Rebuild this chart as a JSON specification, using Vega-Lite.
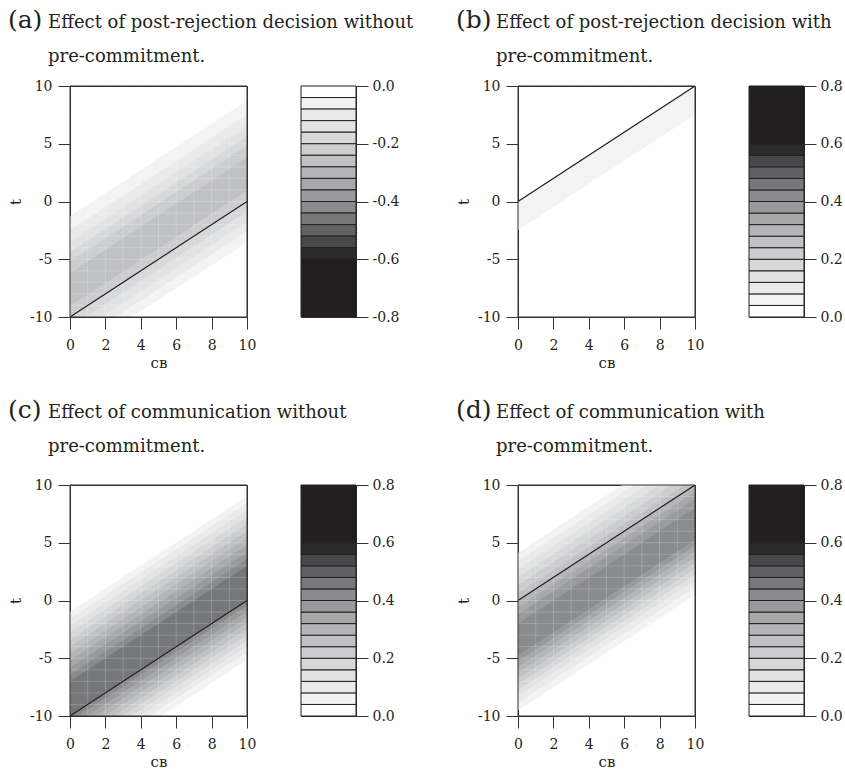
{
  "$schema": "https://vega.github.io/schema/vega-lite/v6.json",
  "background": "white",
  "padding": {"left": 7, "top": 8, "right": 0, "bottom": 0},
  "config": {
    "font": "DejaVu Serif",
    "view": {"stroke": "#333333", "strokeWidth": 1},
    "axis": {"labelFont": "DejaVu Serif", "labelFontSize": 14, "labelColor": "#231f20", "titleFont": "DejaVu Serif", "titleFontSize": 15, "titleFontWeight": "normal", "titleColor": "#231f20", "domainColor": "#333333", "tickColor": "#333333", "tickSize": 12, "grid": false, "zindex": 1, "labelOverlap": false},
    "title": {"anchor": "start", "font": "DejaVu Serif", "fontSize": 25, "fontWeight": "normal", "color": "#231f20", "subtitleFont": "DejaVu Serif", "subtitleFontSize": 18, "subtitleColor": "#231f20", "subtitleLineHeight": 34, "subtitlePadding": -19.5, "offset": 13}
  },
  "datasets": {
    "bandsA": [
      {"b": "A1", "k": 1, "cB": 0, "hi": -1.3, "lo": -2.5}, {"b": "A1", "k": 1, "cB": 10, "hi": 8.7, "lo": 7.5},
      {"b": "A2", "k": 2, "cB": 0, "hi": -2.5, "lo": -3.5}, {"b": "A2", "k": 2, "cB": 10, "hi": 7.5, "lo": 6.5},
      {"b": "A3", "k": 3, "cB": 0, "hi": -3.5, "lo": -4.4}, {"b": "A3", "k": 3, "cB": 10, "hi": 6.5, "lo": 5.6},
      {"b": "A4", "k": 4, "cB": 0, "hi": -4.4, "lo": -5.2}, {"b": "A4", "k": 4, "cB": 10, "hi": 5.6, "lo": 4.8},
      {"b": "A5", "k": 5, "cB": 0, "hi": -5.2, "lo": -6.2}, {"b": "A5", "k": 5, "cB": 10, "hi": 4.8, "lo": 3.8},
      {"b": "A6", "k": 6, "cB": 0, "hi": -6.2, "lo": -9.1}, {"b": "A6", "k": 6, "cB": 10, "hi": 3.8, "lo": 0.9},
      {"b": "A7", "k": 5, "cB": 0, "hi": -9.1, "lo": -10}, {"b": "A7", "k": 5, "cB": 10, "hi": 0.9, "lo": 0},
      {"b": "A8", "k": 4, "cB": 0, "hi": -10, "lo": -10.9}, {"b": "A8", "k": 4, "cB": 10, "hi": 0, "lo": -0.9},
      {"b": "A9", "k": 3, "cB": 0, "hi": -10.9, "lo": -11.8}, {"b": "A9", "k": 3, "cB": 10, "hi": -0.9, "lo": -1.8},
      {"b": "A10", "k": 2, "cB": 0, "hi": -11.8, "lo": -12.6}, {"b": "A10", "k": 2, "cB": 10, "hi": -1.8, "lo": -2.6},
      {"b": "A11", "k": 1, "cB": 0, "hi": -12.6, "lo": -13.5}, {"b": "A11", "k": 1, "cB": 10, "hi": -2.6, "lo": -3.5}
    ],
    "bandsB": [
      {"b": "B1", "k": 1, "cB": 0, "hi": 0, "lo": -2.45}, {"b": "B1", "k": 1, "cB": 10, "hi": 10, "lo": 7.55}
    ],
    "bandsC": [
      {"b": "C1", "k": 1, "cB": 0, "hi": -1.0, "lo": -1.6}, {"b": "C1", "k": 1, "cB": 10, "hi": 9.0, "lo": 8.4},
      {"b": "C2", "k": 2, "cB": 0, "hi": -1.6, "lo": -2.2}, {"b": "C2", "k": 2, "cB": 10, "hi": 8.4, "lo": 7.8},
      {"b": "C3", "k": 3, "cB": 0, "hi": -2.2, "lo": -2.8}, {"b": "C3", "k": 3, "cB": 10, "hi": 7.8, "lo": 7.2},
      {"b": "C4", "k": 4, "cB": 0, "hi": -2.8, "lo": -3.4}, {"b": "C4", "k": 4, "cB": 10, "hi": 7.2, "lo": 6.6},
      {"b": "C5", "k": 5, "cB": 0, "hi": -3.4, "lo": -4.0}, {"b": "C5", "k": 5, "cB": 10, "hi": 6.6, "lo": 6.0},
      {"b": "C6", "k": 6, "cB": 0, "hi": -4.0, "lo": -4.6}, {"b": "C6", "k": 6, "cB": 10, "hi": 6.0, "lo": 5.4},
      {"b": "C7", "k": 7, "cB": 0, "hi": -4.6, "lo": -5.2}, {"b": "C7", "k": 7, "cB": 10, "hi": 5.4, "lo": 4.8},
      {"b": "C8", "k": 8, "cB": 0, "hi": -5.2, "lo": -5.8}, {"b": "C8", "k": 8, "cB": 10, "hi": 4.8, "lo": 4.2},
      {"b": "C9", "k": 9, "cB": 0, "hi": -5.8, "lo": -6.4}, {"b": "C9", "k": 9, "cB": 10, "hi": 4.2, "lo": 3.6},
      {"b": "C10", "k": 10, "cB": 0, "hi": -6.4, "lo": -7.0}, {"b": "C10", "k": 10, "cB": 10, "hi": 3.6, "lo": 3.0},
      {"b": "C11", "k": 11, "cB": 0, "hi": -7.0, "lo": -10}, {"b": "C11", "k": 11, "cB": 10, "hi": 3.0, "lo": 0},
      {"b": "C12", "k": 10, "cB": 0, "hi": -10, "lo": -10.5}, {"b": "C12", "k": 10, "cB": 10, "hi": 0, "lo": -0.5},
      {"b": "C13", "k": 9, "cB": 0, "hi": -10.5, "lo": -11.0}, {"b": "C13", "k": 9, "cB": 10, "hi": -0.5, "lo": -1.0},
      {"b": "C14", "k": 8, "cB": 0, "hi": -11.0, "lo": -11.5}, {"b": "C14", "k": 8, "cB": 10, "hi": -1.0, "lo": -1.5},
      {"b": "C15", "k": 7, "cB": 0, "hi": -11.5, "lo": -12.0}, {"b": "C15", "k": 7, "cB": 10, "hi": -1.5, "lo": -2.0},
      {"b": "C16", "k": 6, "cB": 0, "hi": -12.0, "lo": -12.5}, {"b": "C16", "k": 6, "cB": 10, "hi": -2.0, "lo": -2.5},
      {"b": "C17", "k": 5, "cB": 0, "hi": -12.5, "lo": -13.0}, {"b": "C17", "k": 5, "cB": 10, "hi": -2.5, "lo": -3.0},
      {"b": "C18", "k": 4, "cB": 0, "hi": -13.0, "lo": -13.5}, {"b": "C18", "k": 4, "cB": 10, "hi": -3.0, "lo": -3.5},
      {"b": "C19", "k": 3, "cB": 0, "hi": -13.5, "lo": -14.0}, {"b": "C19", "k": 3, "cB": 10, "hi": -3.5, "lo": -4.0},
      {"b": "C20", "k": 2, "cB": 0, "hi": -14.0, "lo": -14.5}, {"b": "C20", "k": 2, "cB": 10, "hi": -4.0, "lo": -4.5},
      {"b": "C21", "k": 1, "cB": 0, "hi": -14.5, "lo": -15.1}, {"b": "C21", "k": 1, "cB": 10, "hi": -4.5, "lo": -5.1}
    ],
    "bandsD": [
      {"b": "D1", "k": 1, "cB": 0, "hi": 4.1, "lo": 3.4}, {"b": "D1", "k": 1, "cB": 10, "hi": 14.1, "lo": 13.4},
      {"b": "D2", "k": 2, "cB": 0, "hi": 3.4, "lo": 2.7}, {"b": "D2", "k": 2, "cB": 10, "hi": 13.4, "lo": 12.7},
      {"b": "D3", "k": 3, "cB": 0, "hi": 2.7, "lo": 2.0}, {"b": "D3", "k": 3, "cB": 10, "hi": 12.7, "lo": 12.0},
      {"b": "D4", "k": 4, "cB": 0, "hi": 2.0, "lo": 1.3}, {"b": "D4", "k": 4, "cB": 10, "hi": 12.0, "lo": 11.3},
      {"b": "D5", "k": 5, "cB": 0, "hi": 1.3, "lo": 0.6}, {"b": "D5", "k": 5, "cB": 10, "hi": 11.3, "lo": 10.6},
      {"b": "D6", "k": 6, "cB": 0, "hi": 0.6, "lo": 0}, {"b": "D6", "k": 6, "cB": 10, "hi": 10.6, "lo": 10},
      {"b": "D7", "k": 7, "cB": 0, "hi": 0, "lo": -0.6}, {"b": "D7", "k": 7, "cB": 10, "hi": 10, "lo": 9.4},
      {"b": "D8", "k": 8, "cB": 0, "hi": -0.6, "lo": -1.2}, {"b": "D8", "k": 8, "cB": 10, "hi": 9.4, "lo": 8.8},
      {"b": "D9", "k": 9, "cB": 0, "hi": -1.2, "lo": -2.0}, {"b": "D9", "k": 9, "cB": 10, "hi": 8.8, "lo": 8.0},
      {"b": "D10", "k": 10, "cB": 0, "hi": -2.0, "lo": -4.8}, {"b": "D10", "k": 10, "cB": 10, "hi": 8.0, "lo": 5.2},
      {"b": "D11", "k": 9, "cB": 0, "hi": -4.8, "lo": -5.3}, {"b": "D11", "k": 9, "cB": 10, "hi": 5.2, "lo": 4.7},
      {"b": "D12", "k": 8, "cB": 0, "hi": -5.3, "lo": -5.8}, {"b": "D12", "k": 8, "cB": 10, "hi": 4.7, "lo": 4.2},
      {"b": "D13", "k": 7, "cB": 0, "hi": -5.8, "lo": -6.3}, {"b": "D13", "k": 7, "cB": 10, "hi": 4.2, "lo": 3.7},
      {"b": "D14", "k": 6, "cB": 0, "hi": -6.3, "lo": -6.8}, {"b": "D14", "k": 6, "cB": 10, "hi": 3.7, "lo": 3.2},
      {"b": "D15", "k": 5, "cB": 0, "hi": -6.8, "lo": -7.3}, {"b": "D15", "k": 5, "cB": 10, "hi": 3.2, "lo": 2.7},
      {"b": "D16", "k": 4, "cB": 0, "hi": -7.3, "lo": -7.8}, {"b": "D16", "k": 4, "cB": 10, "hi": 2.7, "lo": 2.2},
      {"b": "D17", "k": 3, "cB": 0, "hi": -7.8, "lo": -8.3}, {"b": "D17", "k": 3, "cB": 10, "hi": 2.2, "lo": 1.7},
      {"b": "D18", "k": 2, "cB": 0, "hi": -8.3, "lo": -8.9}, {"b": "D18", "k": 2, "cB": 10, "hi": 1.7, "lo": 1.1},
      {"b": "D19", "k": 1, "cB": 0, "hi": -8.9, "lo": -9.5}, {"b": "D19", "k": 1, "cB": 10, "hi": 1.1, "lo": 0.5}
    ],
    "lineLow": [{"cB": 0, "t": -10}, {"cB": 10, "t": 0}],
    "lineHigh": [{"cB": 0, "t": 0}, {"cB": 10, "t": 10}],
    "gridX": [{"cB": 1}, {"cB": 2}, {"cB": 3}, {"cB": 4}, {"cB": 5}, {"cB": 6}, {"cB": 7}, {"cB": 8}, {"cB": 9}],
    "gridY": [{"t": -9}, {"t": -8}, {"t": -7}, {"t": -6}, {"t": -5}, {"t": -4}, {"t": -3}, {"t": -2}, {"t": -1}, {"t": 0}, {"t": 1}, {"t": 2}, {"t": 3}, {"t": 4}, {"t": 5}, {"t": 6}, {"t": 7}, {"t": 8}, {"t": 9}],
    "frame": [{"f": 1}],
    "barPos": [
      {"k": 0, "lo": 0, "hi": 0.04}, {"k": 1, "lo": 0.04, "hi": 0.08}, {"k": 2, "lo": 0.08, "hi": 0.12}, {"k": 3, "lo": 0.12, "hi": 0.16},
      {"k": 4, "lo": 0.16, "hi": 0.2}, {"k": 5, "lo": 0.2, "hi": 0.24}, {"k": 6, "lo": 0.24, "hi": 0.28}, {"k": 7, "lo": 0.28, "hi": 0.32},
      {"k": 8, "lo": 0.32, "hi": 0.36}, {"k": 9, "lo": 0.36, "hi": 0.4}, {"k": 10, "lo": 0.4, "hi": 0.44}, {"k": 11, "lo": 0.44, "hi": 0.48},
      {"k": 12, "lo": 0.48, "hi": 0.52}, {"k": 13, "lo": 0.52, "hi": 0.56}, {"k": 14, "lo": 0.56, "hi": 0.6}, {"k": 15, "lo": 0.6, "hi": 0.64},
      {"k": 16, "lo": 0.64, "hi": 0.68}, {"k": 17, "lo": 0.68, "hi": 0.72}, {"k": 18, "lo": 0.72, "hi": 0.76}, {"k": 19, "lo": 0.76, "hi": 0.8}
    ],
    "barNeg": [
      {"k": 0, "lo": 0, "hi": -0.04}, {"k": 1, "lo": -0.04, "hi": -0.08}, {"k": 2, "lo": -0.08, "hi": -0.12}, {"k": 3, "lo": -0.12, "hi": -0.16},
      {"k": 4, "lo": -0.16, "hi": -0.2}, {"k": 5, "lo": -0.2, "hi": -0.24}, {"k": 6, "lo": -0.24, "hi": -0.28}, {"k": 7, "lo": -0.28, "hi": -0.32},
      {"k": 8, "lo": -0.32, "hi": -0.36}, {"k": 9, "lo": -0.36, "hi": -0.4}, {"k": 10, "lo": -0.4, "hi": -0.44}, {"k": 11, "lo": -0.44, "hi": -0.48},
      {"k": 12, "lo": -0.48, "hi": -0.52}, {"k": 13, "lo": -0.52, "hi": -0.56}, {"k": 14, "lo": -0.56, "hi": -0.6}, {"k": 15, "lo": -0.6, "hi": -0.64},
      {"k": 16, "lo": -0.64, "hi": -0.68}, {"k": 17, "lo": -0.68, "hi": -0.72}, {"k": 18, "lo": -0.72, "hi": -0.76}, {"k": 19, "lo": -0.76, "hi": -0.8}
    ]
  },
  "columns": 2,
  "spacing": {"row": 27, "column": 41},
  "concat": [
    {
      "title": {"text": "(a)", "subtitle": ["\u200b\u00a0\u00a0\u00a0\u00a0\u00a0\u00a0\u00a0Effect of post-rejection decision without", "\u200b\u00a0\u00a0\u00a0\u00a0\u00a0\u00a0\u00a0pre-commitment."], "offset": 13},
      "spacing": 43,
      "hconcat": [
        {
          "width": 177, "height": 231,
          "layer": [
            {"data": {"name": "bandsA"}, "mark": {"type": "area", "clip": true, "strokeWidth": 0.6},
             "encoding": {
               "x": {"field": "cB", "type": "quantitative", "scale": {"domain": [0, 10], "nice": false, "zero": false}, "axis": {"title": "c\u0299", "values": [0, 2, 4, 6, 8, 10], "labelOverlap": false, "labelFlush": false, "labelPadding": 9, "titlePadding": 3}},
               "y": {"field": "hi", "type": "quantitative", "stack": null, "scale": {"domain": [-10, 10], "nice": false, "zero": false}, "axis": {"title": "t", "values": [-10, -5, 0, 5, 10], "labelOverlap": false, "labelExpr": "datum.value < 0 ? '-' + (-datum.value) : '' + datum.value", "labelPadding": 6, "titlePadding": 6}},
               "y2": {"field": "lo"},
               "color": {"field": "k", "type": "ordinal", "legend": null, "scale": {"domain": [0,1,2,3,4,5,6,7,8,9,10,11,12,13,14,15,16,17,18,19], "range": ["#ffffff","#f3f3f3","#eaeaeb","#e1e2e3","#d7d8d9","#cccdcf","#c0c1c3","#b4b5b7","#a7a8aa","#999a9c","#8a8b8d","#767779","#606163","#47484a","#2b2b2c","#231f20","#231f20","#231f20","#231f20","#231f20"]}},
               "stroke": {"field": "k", "type": "ordinal", "legend": null, "scale": {"domain": [0,1,2,3,4,5,6,7,8,9,10,11,12,13,14,15,16,17,18,19], "range": ["#ffffff","#f3f3f3","#eaeaeb","#e1e2e3","#d7d8d9","#cccdcf","#c0c1c3","#b4b5b7","#a7a8aa","#999a9c","#8a8b8d","#767779","#606163","#47484a","#2b2b2c","#231f20","#231f20","#231f20","#231f20","#231f20"]}},
               "detail": {"field": "b"}
             }},
            {"data": {"name": "gridX"}, "mark": {"type": "rule", "color": "#ffffff", "opacity": 0.2, "strokeWidth": 1}, "encoding": {"x": {"field": "cB", "type": "quantitative", "axis": {"title": "c\u0299", "values": [0, 2, 4, 6, 8, 10], "labelOverlap": false, "labelFlush": false, "labelPadding": 9, "titlePadding": 3}}}},
            {"data": {"name": "gridY"}, "mark": {"type": "rule", "color": "#ffffff", "opacity": 0.2, "strokeWidth": 1}, "encoding": {"y": {"field": "t", "type": "quantitative", "axis": {"title": "t", "values": [-10, -5, 0, 5, 10], "labelOverlap": false, "labelExpr": "datum.value < 0 ? '-' + (-datum.value) : '' + datum.value", "labelPadding": 6, "titlePadding": 6}}}},
            {"data": {"name": "lineLow"}, "mark": {"type": "line", "color": "#231f20", "strokeWidth": 1.2, "clip": true}, "encoding": {"x": {"field": "cB", "type": "quantitative", "axis": {"title": "c\u0299", "values": [0, 2, 4, 6, 8, 10], "labelOverlap": false, "labelFlush": false, "labelPadding": 9, "titlePadding": 3}}, "y": {"field": "t", "type": "quantitative", "axis": {"title": "t", "values": [-10, -5, 0, 5, 10], "labelOverlap": false, "labelExpr": "datum.value < 0 ? '-' + (-datum.value) : '' + datum.value", "labelPadding": 6, "titlePadding": 6}}}},
            {"data": {"name": "frame"}, "mark": {"type": "rect", "fill": null, "stroke": "#333333", "strokeWidth": 1}, "encoding": {}}
          ]
        },
        {
          "width": 55, "height": 231,
          "data": {"name": "barNeg"},
          "mark": {"type": "rect", "stroke": "#231f20", "strokeWidth": 1},
          "encoding": {
            "y": {"field": "lo", "type": "quantitative", "scale": {"domain": [-0.8, 0], "nice": false, "zero": false}, "axis": {"orient": "right", "title": null, "values": [0, -0.2, -0.4, -0.6, -0.8], "labelExpr": "datum.value < 0 ? '-' + format(-datum.value, '.1f') : format(datum.value, '.1f')", "labelPadding": 4}},
            "y2": {"field": "hi"},
            "color": {"field": "k", "type": "ordinal", "legend": null, "scale": {"domain": [0,1,2,3,4,5,6,7,8,9,10,11,12,13,14,15,16,17,18,19], "range": ["#ffffff","#f3f3f3","#eaeaeb","#e1e2e3","#d7d8d9","#cccdcf","#c0c1c3","#b4b5b7","#a7a8aa","#999a9c","#8a8b8d","#767779","#606163","#47484a","#2b2b2c","#231f20","#231f20","#231f20","#231f20","#231f20"]}}
          }
        }
      ]
    },
    {
      "title": {"text": "(b)", "subtitle": ["\u200b\u00a0\u00a0\u00a0\u00a0\u00a0\u00a0\u00a0Effect of post-rejection decision with", "\u200b\u00a0\u00a0\u00a0\u00a0\u00a0\u00a0\u00a0pre-commitment."], "offset": 13},
      "spacing": 43,
      "hconcat": [
        {
          "width": 177, "height": 231,
          "layer": [
            {"data": {"name": "bandsB"}, "mark": {"type": "area", "clip": true, "strokeWidth": 0.6},
             "encoding": {
               "x": {"field": "cB", "type": "quantitative", "scale": {"domain": [0, 10], "nice": false, "zero": false}, "axis": {"title": "c\u0299", "values": [0, 2, 4, 6, 8, 10], "labelOverlap": false, "labelFlush": false, "labelPadding": 9, "titlePadding": 3}},
               "y": {"field": "hi", "type": "quantitative", "stack": null, "scale": {"domain": [-10, 10], "nice": false, "zero": false}, "axis": {"title": "t", "values": [-10, -5, 0, 5, 10], "labelOverlap": false, "labelExpr": "datum.value < 0 ? '-' + (-datum.value) : '' + datum.value", "labelPadding": 6, "titlePadding": 6}},
               "y2": {"field": "lo"},
               "color": {"field": "k", "type": "ordinal", "legend": null, "scale": {"domain": [0,1,2,3,4,5,6,7,8,9,10,11,12,13,14,15,16,17,18,19], "range": ["#ffffff","#f3f3f3","#eaeaeb","#e1e2e3","#d7d8d9","#cccdcf","#c0c1c3","#b4b5b7","#a7a8aa","#999a9c","#8a8b8d","#767779","#606163","#47484a","#2b2b2c","#231f20","#231f20","#231f20","#231f20","#231f20"]}},
               "stroke": {"field": "k", "type": "ordinal", "legend": null, "scale": {"domain": [0,1,2,3,4,5,6,7,8,9,10,11,12,13,14,15,16,17,18,19], "range": ["#ffffff","#f3f3f3","#eaeaeb","#e1e2e3","#d7d8d9","#cccdcf","#c0c1c3","#b4b5b7","#a7a8aa","#999a9c","#8a8b8d","#767779","#606163","#47484a","#2b2b2c","#231f20","#231f20","#231f20","#231f20","#231f20"]}},
               "detail": {"field": "b"}
             }},
            {"data": {"name": "gridX"}, "mark": {"type": "rule", "color": "#ffffff", "opacity": 0.2, "strokeWidth": 1}, "encoding": {"x": {"field": "cB", "type": "quantitative", "axis": {"title": "c\u0299", "values": [0, 2, 4, 6, 8, 10], "labelOverlap": false, "labelFlush": false, "labelPadding": 9, "titlePadding": 3}}}},
            {"data": {"name": "gridY"}, "mark": {"type": "rule", "color": "#ffffff", "opacity": 0.2, "strokeWidth": 1}, "encoding": {"y": {"field": "t", "type": "quantitative", "axis": {"title": "t", "values": [-10, -5, 0, 5, 10], "labelOverlap": false, "labelExpr": "datum.value < 0 ? '-' + (-datum.value) : '' + datum.value", "labelPadding": 6, "titlePadding": 6}}}},
            {"data": {"name": "lineHigh"}, "mark": {"type": "line", "color": "#231f20", "strokeWidth": 1.2, "clip": true}, "encoding": {"x": {"field": "cB", "type": "quantitative", "axis": {"title": "c\u0299", "values": [0, 2, 4, 6, 8, 10], "labelOverlap": false, "labelFlush": false, "labelPadding": 9, "titlePadding": 3}}, "y": {"field": "t", "type": "quantitative", "axis": {"title": "t", "values": [-10, -5, 0, 5, 10], "labelOverlap": false, "labelExpr": "datum.value < 0 ? '-' + (-datum.value) : '' + datum.value", "labelPadding": 6, "titlePadding": 6}}}},
            {"data": {"name": "frame"}, "mark": {"type": "rect", "fill": null, "stroke": "#333333", "strokeWidth": 1}, "encoding": {}}
          ]
        },
        {
          "width": 55, "height": 231,
          "data": {"name": "barPos"},
          "mark": {"type": "rect", "stroke": "#231f20", "strokeWidth": 1},
          "encoding": {
            "y": {"field": "lo", "type": "quantitative", "scale": {"domain": [0, 0.8], "nice": false, "zero": false}, "axis": {"orient": "right", "title": null, "values": [0, 0.2, 0.4, 0.6, 0.8], "format": ".1f", "labelPadding": 4}},
            "y2": {"field": "hi"},
            "color": {"field": "k", "type": "ordinal", "legend": null, "scale": {"domain": [0,1,2,3,4,5,6,7,8,9,10,11,12,13,14,15,16,17,18,19], "range": ["#ffffff","#f3f3f3","#eaeaeb","#e1e2e3","#d7d8d9","#cccdcf","#c0c1c3","#b4b5b7","#a7a8aa","#999a9c","#8a8b8d","#767779","#606163","#47484a","#2b2b2c","#231f20","#231f20","#231f20","#231f20","#231f20"]}}
          }
        }
      ]
    },
    {
      "title": {"text": "(c)", "subtitle": ["\u200b\u00a0\u00a0\u00a0\u00a0\u00a0\u00a0\u00a0Effect of communication without", "\u200b\u00a0\u00a0\u00a0\u00a0\u00a0\u00a0\u00a0pre-commitment."], "offset": 22},
      "spacing": 43,
      "hconcat": [
        {
          "width": 177, "height": 231,
          "layer": [
            {"data": {"name": "bandsC"}, "mark": {"type": "area", "clip": true, "strokeWidth": 0.6},
             "encoding": {
               "x": {"field": "cB", "type": "quantitative", "scale": {"domain": [0, 10], "nice": false, "zero": false}, "axis": {"title": "c\u0299", "values": [0, 2, 4, 6, 8, 10], "labelOverlap": false, "labelFlush": false, "labelPadding": 9, "titlePadding": 3}},
               "y": {"field": "hi", "type": "quantitative", "stack": null, "scale": {"domain": [-10, 10], "nice": false, "zero": false}, "axis": {"title": "t", "values": [-10, -5, 0, 5, 10], "labelOverlap": false, "labelExpr": "datum.value < 0 ? '-' + (-datum.value) : '' + datum.value", "labelPadding": 6, "titlePadding": 6}},
               "y2": {"field": "lo"},
               "color": {"field": "k", "type": "ordinal", "legend": null, "scale": {"domain": [0,1,2,3,4,5,6,7,8,9,10,11,12,13,14,15,16,17,18,19], "range": ["#ffffff","#f3f3f3","#eaeaeb","#e1e2e3","#d7d8d9","#cccdcf","#c0c1c3","#b4b5b7","#a7a8aa","#999a9c","#8a8b8d","#767779","#606163","#47484a","#2b2b2c","#231f20","#231f20","#231f20","#231f20","#231f20"]}},
               "stroke": {"field": "k", "type": "ordinal", "legend": null, "scale": {"domain": [0,1,2,3,4,5,6,7,8,9,10,11,12,13,14,15,16,17,18,19], "range": ["#ffffff","#f3f3f3","#eaeaeb","#e1e2e3","#d7d8d9","#cccdcf","#c0c1c3","#b4b5b7","#a7a8aa","#999a9c","#8a8b8d","#767779","#606163","#47484a","#2b2b2c","#231f20","#231f20","#231f20","#231f20","#231f20"]}},
               "detail": {"field": "b"}
             }},
            {"data": {"name": "gridX"}, "mark": {"type": "rule", "color": "#ffffff", "opacity": 0.2, "strokeWidth": 1}, "encoding": {"x": {"field": "cB", "type": "quantitative", "axis": {"title": "c\u0299", "values": [0, 2, 4, 6, 8, 10], "labelOverlap": false, "labelFlush": false, "labelPadding": 9, "titlePadding": 3}}}},
            {"data": {"name": "gridY"}, "mark": {"type": "rule", "color": "#ffffff", "opacity": 0.2, "strokeWidth": 1}, "encoding": {"y": {"field": "t", "type": "quantitative", "axis": {"title": "t", "values": [-10, -5, 0, 5, 10], "labelOverlap": false, "labelExpr": "datum.value < 0 ? '-' + (-datum.value) : '' + datum.value", "labelPadding": 6, "titlePadding": 6}}}},
            {"data": {"name": "lineLow"}, "mark": {"type": "line", "color": "#231f20", "strokeWidth": 1.2, "clip": true}, "encoding": {"x": {"field": "cB", "type": "quantitative", "axis": {"title": "c\u0299", "values": [0, 2, 4, 6, 8, 10], "labelOverlap": false, "labelFlush": false, "labelPadding": 9, "titlePadding": 3}}, "y": {"field": "t", "type": "quantitative", "axis": {"title": "t", "values": [-10, -5, 0, 5, 10], "labelOverlap": false, "labelExpr": "datum.value < 0 ? '-' + (-datum.value) : '' + datum.value", "labelPadding": 6, "titlePadding": 6}}}},
            {"data": {"name": "frame"}, "mark": {"type": "rect", "fill": null, "stroke": "#333333", "strokeWidth": 1}, "encoding": {}}
          ]
        },
        {
          "width": 55, "height": 231,
          "data": {"name": "barPos"},
          "mark": {"type": "rect", "stroke": "#231f20", "strokeWidth": 1},
          "encoding": {
            "y": {"field": "lo", "type": "quantitative", "scale": {"domain": [0, 0.8], "nice": false, "zero": false}, "axis": {"orient": "right", "title": null, "values": [0, 0.2, 0.4, 0.6, 0.8], "format": ".1f", "labelPadding": 4}},
            "y2": {"field": "hi"},
            "color": {"field": "k", "type": "ordinal", "legend": null, "scale": {"domain": [0,1,2,3,4,5,6,7,8,9,10,11,12,13,14,15,16,17,18,19], "range": ["#ffffff","#f3f3f3","#eaeaeb","#e1e2e3","#d7d8d9","#cccdcf","#c0c1c3","#b4b5b7","#a7a8aa","#999a9c","#8a8b8d","#767779","#606163","#47484a","#2b2b2c","#231f20","#231f20","#231f20","#231f20","#231f20"]}}
          }
        }
      ]
    },
    {
      "title": {"text": "(d)", "subtitle": ["\u200b\u00a0\u00a0\u00a0\u00a0\u00a0\u00a0\u00a0Effect of communication with", "\u200b\u00a0\u00a0\u00a0\u00a0\u00a0\u00a0\u00a0pre-commitment."], "offset": 22},
      "spacing": 43,
      "hconcat": [
        {
          "width": 177, "height": 231,
          "layer": [
            {"data": {"name": "bandsD"}, "mark": {"type": "area", "clip": true, "strokeWidth": 0.6},
             "encoding": {
               "x": {"field": "cB", "type": "quantitative", "scale": {"domain": [0, 10], "nice": false, "zero": false}, "axis": {"title": "c\u0299", "values": [0, 2, 4, 6, 8, 10], "labelOverlap": false, "labelFlush": false, "labelPadding": 9, "titlePadding": 3}},
               "y": {"field": "hi", "type": "quantitative", "stack": null, "scale": {"domain": [-10, 10], "nice": false, "zero": false}, "axis": {"title": "t", "values": [-10, -5, 0, 5, 10], "labelOverlap": false, "labelExpr": "datum.value < 0 ? '-' + (-datum.value) : '' + datum.value", "labelPadding": 6, "titlePadding": 6}},
               "y2": {"field": "lo"},
               "color": {"field": "k", "type": "ordinal", "legend": null, "scale": {"domain": [0,1,2,3,4,5,6,7,8,9,10,11,12,13,14,15,16,17,18,19], "range": ["#ffffff","#f3f3f3","#eaeaeb","#e1e2e3","#d7d8d9","#cccdcf","#c0c1c3","#b4b5b7","#a7a8aa","#999a9c","#8a8b8d","#767779","#606163","#47484a","#2b2b2c","#231f20","#231f20","#231f20","#231f20","#231f20"]}},
               "stroke": {"field": "k", "type": "ordinal", "legend": null, "scale": {"domain": [0,1,2,3,4,5,6,7,8,9,10,11,12,13,14,15,16,17,18,19], "range": ["#ffffff","#f3f3f3","#eaeaeb","#e1e2e3","#d7d8d9","#cccdcf","#c0c1c3","#b4b5b7","#a7a8aa","#999a9c","#8a8b8d","#767779","#606163","#47484a","#2b2b2c","#231f20","#231f20","#231f20","#231f20","#231f20"]}},
               "detail": {"field": "b"}
             }},
            {"data": {"name": "gridX"}, "mark": {"type": "rule", "color": "#ffffff", "opacity": 0.2, "strokeWidth": 1}, "encoding": {"x": {"field": "cB", "type": "quantitative", "axis": {"title": "c\u0299", "values": [0, 2, 4, 6, 8, 10], "labelOverlap": false, "labelFlush": false, "labelPadding": 9, "titlePadding": 3}}}},
            {"data": {"name": "gridY"}, "mark": {"type": "rule", "color": "#ffffff", "opacity": 0.2, "strokeWidth": 1}, "encoding": {"y": {"field": "t", "type": "quantitative", "axis": {"title": "t", "values": [-10, -5, 0, 5, 10], "labelOverlap": false, "labelExpr": "datum.value < 0 ? '-' + (-datum.value) : '' + datum.value", "labelPadding": 6, "titlePadding": 6}}}},
            {"data": {"name": "lineHigh"}, "mark": {"type": "line", "color": "#231f20", "strokeWidth": 1.2, "clip": true}, "encoding": {"x": {"field": "cB", "type": "quantitative", "axis": {"title": "c\u0299", "values": [0, 2, 4, 6, 8, 10], "labelOverlap": false, "labelFlush": false, "labelPadding": 9, "titlePadding": 3}}, "y": {"field": "t", "type": "quantitative", "axis": {"title": "t", "values": [-10, -5, 0, 5, 10], "labelOverlap": false, "labelExpr": "datum.value < 0 ? '-' + (-datum.value) : '' + datum.value", "labelPadding": 6, "titlePadding": 6}}}},
            {"data": {"name": "frame"}, "mark": {"type": "rect", "fill": null, "stroke": "#333333", "strokeWidth": 1}, "encoding": {}}
          ]
        },
        {
          "width": 55, "height": 231,
          "data": {"name": "barPos"},
          "mark": {"type": "rect", "stroke": "#231f20", "strokeWidth": 1},
          "encoding": {
            "y": {"field": "lo", "type": "quantitative", "scale": {"domain": [0, 0.8], "nice": false, "zero": false}, "axis": {"orient": "right", "title": null, "values": [0, 0.2, 0.4, 0.6, 0.8], "format": ".1f", "labelPadding": 4}},
            "y2": {"field": "hi"},
            "color": {"field": "k", "type": "ordinal", "legend": null, "scale": {"domain": [0,1,2,3,4,5,6,7,8,9,10,11,12,13,14,15,16,17,18,19], "range": ["#ffffff","#f3f3f3","#eaeaeb","#e1e2e3","#d7d8d9","#cccdcf","#c0c1c3","#b4b5b7","#a7a8aa","#999a9c","#8a8b8d","#767779","#606163","#47484a","#2b2b2c","#231f20","#231f20","#231f20","#231f20","#231f20"]}}
          }
        }
      ]
    }
  ]
}
